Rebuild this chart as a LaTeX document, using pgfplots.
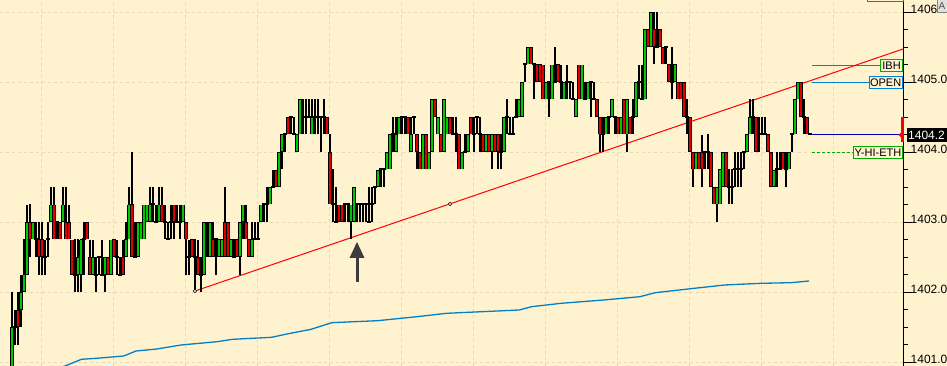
\documentclass[border=0pt]{standalone}
\usepackage{pgfplots}
\pgfplotsset{compat=1.18}
\usepackage{pgfplotstable}
\usepackage{fontspec}
\setmainfont{Liberation Sans}
\definecolor{bg}{RGB}{255,242,207}
\definecolor{gridc}{RGB}{232,216,184}
\definecolor{upc}{RGB}{0,200,0}
\definecolor{dnc}{RGB}{225,0,0}
\definecolor{mablue}{RGB}{0,128,200}
\definecolor{ibhg}{RGB}{0,170,0}
\definecolor{openb}{RGB}{0,130,210}
\definecolor{navyc}{RGB}{0,0,170}
\definecolor{arrowc}{RGB}{60,60,60}

% bars: x (pixel), open, high, low, close in quarter-point steps above 1400
\pgfplotstableread[row sep=\\]{
x o h l c\\
12 3 8 3 6\\ 15 6 7 5 6\\ 18 7 8 5 6\\ 21 7 9 6 8\\ 24 8 11 8 9\\ 27 9 13 9 12\\
30 12 13 10 11\\ 33 11 12 11 12\\ 36 11 12 10 11\\ 39 11 12 9 10\\ 42 11 12 9 10\\
45 10 11 9 10\\ 48 11 12 10 11\\ 51 12 14 12 13\\ 54 13 14 11 11\\ 57 12 12 11 12\\
60 12 12 11 11\\ 63 12 14 12 13\\ 66 12 14 11 11\\ 69 12 13 11 11\\ 72 11 11 9 9\\
75 9 11 8 9\\ 78 9 11 8 10\\ 81 9 11 8 11\\ 84 11 12 9 11\\ 87 12 12 11 11\\
90 10 11 9 9\\ 93 9 11 9 10\\ 96 9 10 8 9\\ 99 10 10 9 10\\ 102 9 11 9 9\\
105 9 10 8 10\\ 108 10 10 9 9\\ 111 9 11 9 11\\ 114 11 11 10 10\\ 117 10 11 9 10\\
120 9 10 9 9\\ 123 10 11 9 9\\ 126 10 12 10 11\\ 129 11 14 11 13\\ 132 13 16 10 10\\
135 10 12 10 10\\ 138 10 12 10 12\\ 141 11 12 11 12\\ 144 11 13 11 13\\ 147 12 13 12 13\\
150 12 14 12 13\\ 153 13 14 12 13\\ 156 12 13 12 12\\ 159 12 14 12 13\\ 162 13 14 12 12\\
165 12 13 11 12\\ 168 11 12 11 11\\ 171 12 13 11 12\\ 174 13 13 11 12\\ 177 12 13 12 12\\
180 12 13 11 12\\ 183 12 13 12 13\\ 186 12 12 9 11\\ 189 10 11 9 10\\ 192 11 11 10 10\\
195 10 11 8 10\\ 198 10 11 9 9\\ 201 9 10 8 9\\ 204 9 12 9 12\\ 207 11 12 10 11\\
210 10 12 10 12\\ 213 11 12 10 10\\ 216 11 11 9 11\\ 219 10 11 10 11\\ 222 10 11 10 11\\
225 12 14 10 10\\ 228 12 12 10 10\\ 231 10 11 10 11\\ 234 10 11 10 10\\ 237 11 11 10 10\\
240 10 12 9 12\\ 243 12 13 11 13\\ 246 12 13 11 11\\ 249 11 11 10 10\\ 252 10 12 10 11\\
255 11 12 11 11\\ 258 11 12 11 11\\ 261 12 13 12 13\\ 264 13 13 12 13\\ 267 13 14 12 13\\
270 13 14 13 14\\ 273 14 15 14 14\\ 276 15 15 14 14\\ 279 14 16 14 16\\ 282 16 17 15 17\\
285 17 17 16 17\\ 288 18 18 17 17\\ 291 18 18 17 18\\ 294 17 18 17 17\\ 297 16 17 16 17\\
300 17 19 17 19\\ 303 18 19 17 18\\ 306 18 19 17 18\\ 309 18 19 18 18\\ 312 17 19 17 18\\
315 18 19 17 18\\ 318 18 19 17 18\\ 321 18 18 16 18\\ 324 18 19 17 18\\ 327 18 18 17 17\\
330 16 17 13 13\\ 333 13 15 12 13\\ 336 12 14 12 12\\ 339 13 13 12 12\\ 342 13 13 12 12\\
345 13 13 12 13\\ 348 13 13 12 13\\ 351 12 13 11 13\\ 354 12 14 12 14\\ 357 13 13 12 13\\
360 13 13 12 13\\ 363 13 13 12 13\\ 366 13 13 12 13\\ 369 12 14 12 12\\ 372 13 14 12 13\\
375 14 14 13 14\\ 378 14 15 14 15\\ 381 15 15 14 15\\ 384 15 15 14 15\\ 387 15 16 15 16\\
390 15 17 15 17\\ 393 17 18 16 17\\ 396 16 18 16 17\\ 399 17 18 17 18\\ 402 18 18 17 18\\
405 18 18 17 18\\ 408 18 18 17 17\\ 411 16 18 16 17\\ 414 18 18 17 18\\ 417 17 17 15 16\\
420 16 16 15 15\\ 423 15 17 15 17\\ 426 17 17 15 15\\ 429 15 16 15 16\\ 432 16 19 16 19\\
435 19 19 18 18\\ 438 17 18 17 18\\ 441 17 17 16 16\\ 444 16 19 16 19\\ 447 17 18 17 18\\
450 18 18 17 17\\ 453 17 18 17 17\\ 456 17 18 16 17\\ 459 17 17 15 15\\ 462 15 16 15 16\\
465 16 17 16 16\\ 468 16 17 16 17\\ 471 18 18 17 17\\ 474 17 18 16 17\\ 477 18 18 17 18\\
480 17 18 16 17\\ 483 17 17 16 16\\ 486 16 17 16 17\\ 489 17 17 16 16\\ 492 16 17 15 17\\
495 17 17 16 16\\ 498 17 17 15 16\\ 501 16 17 15 16\\ 504 16 18 16 18\\ 507 18 19 17 18\\
510 17 18 17 17\\ 513 17 18 17 17\\ 516 18 19 18 18\\ 519 18 19 18 19\\ 522 18 20 18 20\\
525 21 21 20 21\\ 528 21 22 21 22\\ 531 22 22 21 21\\ 534 21 21 19 21\\ 537 21 21 20 20\\
540 21 21 20 20\\ 543 21 21 19 19\\ 546 19 20 19 20\\ 549 20 20 18 20\\ 552 19 21 19 21\\
555 20 22 20 20\\ 558 21 21 20 20\\ 561 20 21 19 20\\ 564 19 20 19 20\\ 567 20 21 19 20\\
570 20 20 19 20\\ 573 19 20 19 19\\ 576 18 19 18 19\\ 579 21 21 19 19\\ 582 19 21 19 21\\
585 19 20 19 19\\ 588 19 20 19 20\\ 591 20 20 18 20\\ 594 19 20 19 19\\ 597 19 19 18 18\\
600 18 18 16 17\\ 603 17 18 16 17\\ 606 17 18 17 18\\ 609 18 18 17 18\\ 612 18 19 18 19\\
615 18 18 17 18\\ 618 18 18 17 17\\ 621 17 18 17 18\\ 624 19 19 17 17\\ 627 17 19 16 19\\
630 18 18 17 17\\ 633 18 19 17 18\\ 636 18 20 18 20\\ 639 20 21 19 20\\ 642 19 21 19 19\\
645 19 23 19 23\\ 648 23 23 22 22\\ 651 22 24 22 24\\ 654 23 24 21 22\\ 657 22 24 22 22\\
660 23 23 22 22\\ 663 22 22 21 21\\ 666 22 22 21 22\\ 669 21 21 20 20\\ 672 20 22 19 20\\
675 20 21 20 21\\ 678 20 20 19 19\\ 681 20 20 19 19\\ 684 20 20 18 18\\ 687 18 19 17 18\\
690 18 18 16 16\\ 693 16 16 14 15\\ 696 15 16 15 16\\ 699 16 16 15 15\\ 702 16 17 14 15\\
705 16 16 15 16\\ 708 16 17 15 16\\ 711 16 16 14 14\\ 714 14 14 13 13\\ 717 13 14 12 14\\
720 13 15 13 15\\ 723 14 16 14 16\\ 726 16 16 14 14\\ 729 14 15 13 14\\ 732 14 15 13 14\\
735 15 16 14 15\\ 738 15 16 14 15\\ 741 15 16 14 15\\ 744 16 16 15 16\\ 747 16 17 16 17\\
750 17 19 17 18\\ 753 18 19 17 18\\ 756 18 18 16 16\\ 759 17 18 16 17\\ 762 17 18 17 17\\
765 17 18 17 17\\ 768 17 17 16 16\\ 771 16 16 14 14\\ 774 14 15 14 15\\ 777 15 16 14 15\\
780 15 16 15 15\\ 783 16 16 15 15\\ 786 15 16 14 15\\ 789 15 16 15 16\\ 792 17 17 16 17\\
795 17 19 17 19\\ 798 19 20 19 20\\ 801 20 20 18 18\\ 804 18 19 17 18\\ 807 18 18 17 17\\
810 17 17 17 17\\
}\bars

\pgfplotsset{errbar/.style={draw=none, mark=none, forget plot}}

\begin{document}
\begin{tikzpicture}[x=1pt,y=1pt]
\fill[bg] (0,0) rectangle (947,366);
\useasboundingbox (0,0) rectangle (947,366);
\begin{axis}[at={(0,0)}, anchor=south west, scale only axis,
  width=903pt, height=366pt,
  xmin=0, xmax=903, ymin=1400.943, ymax=1406.171,
  axis line style={draw=none},
  xtick={41.7,113.7,185.7,257.7,329.7,401.7,473.7,545.7,617.7,689.7,761.7,833.7},
  xticklabels={}, xtick pos=bottom,
  ytick={1401,1402,1403,1404,1405,1406},
  yticklabels={1401.0,1402.0,1403.0,1404.0,1405.0,1406.0},
  minor y tick num=3,
  ytick pos=right, yticklabel pos=right,
  tick align=outside,
  major tick length=9pt, minor tick length=4.5pt,
  tick style={black, line width=0.9pt},
  yticklabel style={font=\fontsize{12}{14}\selectfont, anchor=west, inner sep=0pt, xshift=-1.5pt, yshift=3pt},
  grid=major,
  major grid style={gridc, line width=0.9pt, dash pattern=on 3pt off 3pt},
  clip=true,
]
% moving average (blue)
\addplot[mablue, line width=1.3pt] coordinates {
 (60,1400.92) (65,1400.943) (81.5,1401.039) (96.6,1401.053) (123.8,1401.086) (135.9,1401.157)
 (157,1401.186) (181,1401.243) (217,1401.29) (232.5,1401.324) (271.7,1401.353)
 (286.8,1401.40) (311,1401.467) (332,1401.562) (377.4,1401.59) (416.7,1401.647)
 (446.9,1401.696) (519.3,1401.743) (531.4,1401.79) (561.6,1401.839) (603.9,1401.886)
 (640,1401.933) (655.2,1401.99) (694.4,1402.053) (724.6,1402.10) (760.9,1402.124)
 (791,1402.133) (809,1402.157)};
% level lines on the right
\addplot[ibhg, line width=0.9pt] coordinates {(812,1405.24) (880,1405.24)};
\addplot[openb, line width=0.9pt] coordinates {(812,1405.0) (870,1405.0)};
\addplot[ibhg, line width=0.9pt, dash pattern=on 3pt off 2pt] coordinates {(812,1404.0) (853,1404.0)};
\addplot[navyc, line width=1pt] coordinates {(810,1404.25) (903,1404.25)};
% trend line
\addplot[red, line width=1pt] coordinates {(195,1402.014) (903,1405.471)};
% wicks
\addplot[errbar, error bars/.cd, y dir=plus, y explicit, error mark=none,
  error bar style={draw=black, line width=1.1pt}]
  table[x=x, y expr={1400+\thisrow{l}/4}, y error plus expr={(\thisrow{h}-\thisrow{l})/4}] {\bars};
% body outlines
\addplot[errbar, error bars/.cd, y dir=plus, y explicit, error mark=none,
  error bar style={draw=black, line width=3.3pt}]
  table[x=x, y expr={1400+min(\thisrow{o},\thisrow{c})/4}, y error plus expr={abs(\thisrow{o}-\thisrow{c})/4}] {\bars};
% up bodies
\addplot[errbar, error bars/.cd, y dir=plus, y explicit, error mark=none,
  error bar style={draw=upc, line width=1.5pt}]
  table[x=x, y expr={1400+\thisrow{o}/4+0.014}, y error plus expr={max(0,(\thisrow{c}-\thisrow{o})/4-0.028)}] {\bars};
% down bodies
\addplot[errbar, error bars/.cd, y dir=plus, y explicit, error mark=none,
  error bar style={draw=dnc, line width=1.5pt}]
  table[x=x, y expr={1400+\thisrow{c}/4+0.014}, y error plus expr={max(0,(\thisrow{o}-\thisrow{c})/4-0.028)}] {\bars};
% doji dashes
\addplot[errbar, error bars/.cd, x dir=both, x explicit, error mark=none,
  error bar style={draw=black, line width=2pt}]
  table[x=x, y expr={1400+\thisrow{o}/4}, x error expr={1.8*(\thisrow{o}==\thisrow{c})}] {\bars};
% trend line anchors
\addplot[only marks, mark=*, mark size=1.8pt, mark options={draw=black, fill=bg, line width=0.6pt}]
  coordinates {(195,1402.014) (450,1403.257)};
\end{axis}
% right axis line
\draw[black, line width=1pt] (903.5,0) -- (903.5,366);
% label boxes
\node[draw=ibhg, fill=bg, line width=0.9pt, inner xsep=1.5pt, inner ysep=0pt, minimum height=12pt,
  anchor=east, font=\fontsize{11}{13}\selectfont] at (902.7,300.5) {IBH};
\node[draw=openb, fill=bg, line width=0.9pt, inner xsep=1pt, inner ysep=0pt, minimum height=12pt,
  anchor=east, font=\fontsize{11}{13}\selectfont] at (902.7,283.5) {OPEN};
\node[draw=ibhg, fill=bg, line width=0.9pt, inner xsep=1pt, inner ysep=0pt, minimum height=12pt,
  anchor=east, font=\fontsize{11}{13}\selectfont] at (902.7,213.5) {Y-HI-ETH};
\draw[ibhg, line width=0.9pt, fill=bg] (867,364.5) rectangle (903,380);
% current price marker
\fill[black] (906.5,224.3) rectangle (950,237.7);
\node[anchor=west, inner sep=0pt, text=white, font=\fontsize{12}{14}\selectfont] at (908,231) {1404.2};
\draw[red, line width=3pt] (902.3,224) -- (902.3,249);
\fill[red] (898.5,231) -- (903.5,236) -- (903.5,226) -- cycle;
% A box
\draw[gray, fill=black!12] (937.5,353.5) rectangle (950,370);
\node[anchor=west, inner sep=0pt, font=\fontsize{10}{12}\selectfont, text=black!70] at (938.5,360) {A};
% arrow
\draw[arrowc, line width=3pt] (357,84) -- (357,110);
\fill[arrowc] (349.5,108) -- (364.5,108) -- (357,124) -- cycle;
\end{tikzpicture}
\end{document}
